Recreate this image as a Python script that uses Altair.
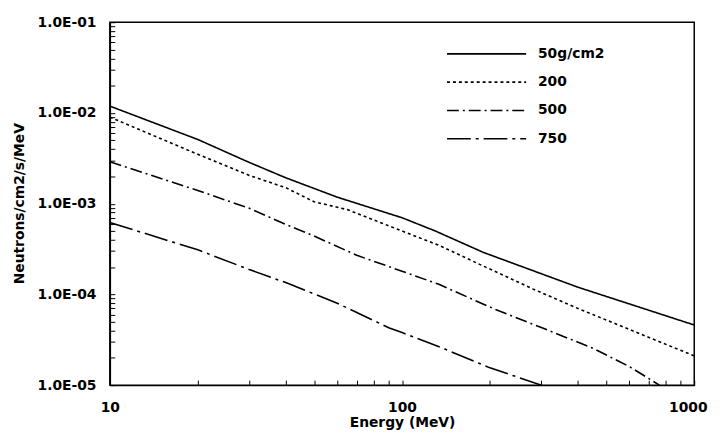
import altair as alt
import pandas as pd

series_names = ["50g/cm2", "200", "500", "750"]

e_50 = [10, 20, 30, 40, 60, 100, 130, 190, 400, 1000]
v_50 = [1.19e-2, 5.1e-3, 2.85e-3, 1.93e-3, 1.18e-3, 7.0e-4, 5.0e-4, 2.9e-4, 1.2e-4, 4.6e-5]

e_200 = [10, 20, 30, 40, 50, 65, 100, 133, 190, 280, 400, 590, 1000]
v_200 = [9.0e-3, 3.5e-3, 2.05e-3, 1.5e-3, 1.05e-3, 8.6e-4, 5.0e-4, 3.5e-4, 2.05e-4, 1.15e-4, 7.0e-5, 4.2e-5, 2.1e-5]

e_500 = [10, 20, 30, 40, 50, 70, 100, 133, 207, 306, 450, 600, 760]
v_500 = [2.9e-3, 1.4e-3, 8.9e-4, 5.9e-4, 4.4e-4, 2.7e-4, 1.8e-4, 1.3e-4, 6.9e-5, 4.2e-5, 2.55e-5, 1.6e-5, 1.0e-5]

e_750 = [10, 20, 30, 40, 60, 90, 100, 140, 200, 300]
v_750 = [6.2e-4, 3.1e-4, 1.88e-4, 1.35e-4, 8.0e-5, 4.3e-5, 3.8e-5, 2.5e-5, 1.55e-5, 1.0e-5]

dash_patterns = [[1, 0], [3, 3], [12, 4, 2, 4], [24, 5, 3, 5]]

x_major = [10, 100, 1000]
y_major = [1e-5, 1e-4, 1e-3, 1e-2, 1e-1]
x_ticks = [m * 10 ** k for k in (1, 2) for m in range(1, 10)] + [1000]
y_ticks = [m * 10.0 ** k for k in (-5, -4, -3, -2) for m in range(1, 10)] + [1e-1]

rows = []
for name, es, vs in zip(series_names, [e_50, e_200, e_500, e_750], [v_50, v_200, v_500, v_750]):
    for e, v in zip(es, vs):
        rows.append({"series": name, "energy": e, "flux": v})
df = pd.DataFrame(rows)

FONT = "DejaVu Sans"
xs = alt.Scale(type="log", domain=[10, 1000], nice=False)
ys = alt.Scale(type="log", domain=[1e-5, 1e-1], nice=False)

lines = alt.Chart(df).mark_line(color="black", strokeWidth=1.6, clip=True).encode(
    x=alt.X("energy:Q", scale=xs, axis=alt.Axis(
        values=x_major, format="d", title="Energy (MeV)", ticks=False, grid=False,
        labelPadding=16, labelFont=FONT, labelFontSize=14, labelFontWeight="bold",
        labelColor="black", labelFlush=False,
        labelAlign={"condition": {"test": "datum.value >= 1000", "value": "right"}, "value": "center"},
        labelOffset={"condition": {"test": "datum.value >= 1000", "value": 13}, "value": 0},
        titleFont=FONT, titleFontSize=14, titleFontWeight="bold",
        titleColor="black", titleBaseline="top", titleY=31,
        domainColor="black", domainWidth=1.5)),
    y=alt.Y("flux:Q", scale=ys, axis=alt.Axis(
        values=y_major, labelExpr="'1.0E-0' + format(-round(log(datum.value)/LN10), 'd')",
        title="Neutrons/cm2/s/MeV", ticks=False, grid=False,
        labelPadding=14, labelFont=FONT, labelFontSize=14, labelFontWeight="bold",
        labelColor="black", titleFont=FONT, titleFontSize=14, titleFontWeight="bold",
        titleColor="black", titleAngle=270, titleX=-91, titleY=183,
        titleBaseline="middle", titleAlign="center",
        domainColor="black", domainWidth=1.5)),
    strokeDash=alt.StrokeDash("series:N", sort=series_names,
        scale=alt.Scale(domain=series_names, range=dash_patterns),
        legend=alt.Legend(title=None, orient="none", legendX=370, legendY=21,
                          symbolType="M-4,0H4", symbolSize=400, symbolStrokeWidth=1.6,
                          symbolStrokeColor="black", symbolFillColor="transparent",
                          labelFont=FONT, labelFontSize=14,
                          labelFontWeight="bold", labelColor="black", labelOffset=41,
                          rowPadding=10.6, padding=0)),
)

ticks = alt.Chart(df).mark_line(strokeOpacity=0).encode(
    x=alt.X("energy:Q", scale=xs, axis=alt.Axis(
        orient="bottom", values=x_ticks, labels=False, domain=False, grid=False,
        ticks=True, tickSize=5, offset=-5, title="", tickColor="black", tickWidth=1)),
    y=alt.Y("flux:Q", scale=ys, axis=alt.Axis(
        orient="left", values=y_ticks, labels=False, domain=False, grid=False,
        ticks=True, tickSize=5, offset=-5, title="", tickColor="black", tickWidth=1)),
    detail="series:N",
)

chart = alt.layer(lines, ticks).resolve_axis(x="independent", y="independent").properties(
    width=591, height=367,
    autosize=alt.AutoSizeParams(type="none"),
    padding={"left": 103, "top": 12, "right": 21, "bottom": 45},
).configure_view(stroke="black", strokeWidth=1.5)

chart.save("out.html", embed_options={"renderer": "svg", "actions": False})
